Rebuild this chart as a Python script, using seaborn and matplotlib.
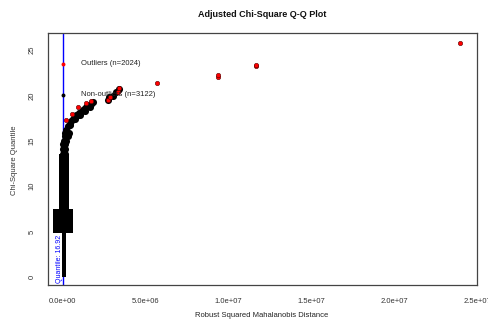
import numpy as np
import pandas as pd
import matplotlib
matplotlib.use("Agg")
import matplotlib.pyplot as plt
import seaborn as sns

# Distances in millions, chi-square quantiles
stem_y = [0.2, 0.6, 1.0, 1.4, 1.8, 2.2, 2.6, 3.0, 3.4, 3.8, 4.2, 4.6, 5.0]
stem_x = [0.05] * len(stem_y)

block_x = [-0.35, 0.0, 0.35] * 4
block_y = [5.3] * 3 + [5.9] * 3 + [6.5] * 3 + [7.1] * 3

column_x = [-0.05, 0.2] * 12
column_y = [7.7, 7.7, 8.2, 8.2, 8.7, 8.7, 9.2, 9.2, 9.7, 9.7, 10.2, 10.2,
            10.7, 10.7, 11.2, 11.2, 11.7, 11.7, 12.2, 12.2, 12.7, 12.7, 13.2, 13.2]

curve_x = [0.0, 0.1, 0.0, 0.1, 0.02, 0.15, 0.05, 0.2, 0.1, 0.3, 0.15, 0.35, 0.2,
           0.3, 0.4, 0.5, 0.6, 0.7, 0.8, 0.9, 1.0, 1.1, 1.2, 1.3, 1.4, 1.5, 1.6,
           1.7, 1.8, 0.45, 0.75, 1.05, 1.35, 1.65,
           2.7, 2.8, 3.0, 3.2, 3.4]
curve_y = [13.6, 13.6, 14.1, 14.1, 14.6, 14.6, 15.0, 15.0, 15.5, 15.5, 15.9, 15.9,
           16.2, 16.6, 16.9, 17.2, 17.4, 17.6, 17.8, 17.9, 18.1, 18.2, 18.4, 18.5,
           18.7, 18.8, 19.0, 19.1, 19.3, 16.8, 17.4, 17.8, 18.3, 18.7,
           19.5, 19.8, 19.9, 20.4, 20.7]

outlier_x = [0.2, 0.53, 0.93, 1.39, 1.67, 2.7, 2.83, 3.3, 3.4,
             5.66, 9.34, 9.34, 11.67, 11.67, 24.0]
outlier_y = [17.3, 18.0, 18.7, 19.2, 19.4, 19.5, 19.8, 20.4, 20.8,
             21.4, 22.0, 22.2, 23.2, 23.4, 25.8]

legend_y = [23.5, 20.1]
legend_labels = ["Outliers (n=2024)", "Non-outliers (n=3122)"]
legend_colors = ["red", "black"]

cutoff_label = "Quantile: 16.92"

xticks = [0, 5e6, 1e7, 1.5e7, 2e7, 2.5e7]
xtick_labels = ["0.0e+00", "5.0e+06", "1.0e+07", "1.5e+07", "2.0e+07", "2.5e+07"]
yticks = [0, 5, 10, 15, 20, 25]

M = 1e6

sns.set_style("white")
plt.rcParams['font.family'] = ['Liberation Sans', 'DejaVu Sans']

fig = plt.figure(figsize=(4.88, 3.21), dpi=100)
ax = fig.add_axes([0.0984, 0.112, 0.879, 0.785])

stem = pd.DataFrame({"x": np.array(stem_x) * M, "y": stem_y})
block = pd.DataFrame({"x": np.array(block_x) * M, "y": block_y})
column = pd.DataFrame({"x": np.array(column_x) * M, "y": column_y})
curve = pd.DataFrame({"x": np.array(curve_x) * M, "y": curve_y})
outl = pd.DataFrame({"x": np.array(outlier_x) * M, "y": outlier_y})

ax.axvline(0, color="blue", lw=1.0, zorder=1)
sns.scatterplot(data=stem, x="x", y="y", ax=ax, color="black", s=6, marker="s",
                linewidth=0, zorder=2)
sns.scatterplot(data=block, x="x", y="y", ax=ax, color="black", s=40, marker="s",
                linewidth=0, zorder=2)
sns.scatterplot(data=column, x="x", y="y", ax=ax, color="black", s=22, marker="s",
                linewidth=0, zorder=2)
sns.scatterplot(data=curve, x="x", y="y", ax=ax, color="black", s=26,
                linewidth=0, zorder=3)
sns.scatterplot(data=outl, x="x", y="y", ax=ax, color="red", s=10,
                edgecolor="#550000", linewidth=0.4, zorder=4)

# legend-like labels placed in data space
leg = pd.DataFrame({"x": [0.0, 0.0], "y": legend_y, "c": legend_colors})
for _, r in leg.iterrows():
    ax.scatter(r["x"], r["y"], color=r["c"], s=8, zorder=5, linewidths=0)
for yv, lab in zip(legend_y, legend_labels):
    ax.text(1.1 * M, yv, lab, fontsize=5.5, color="#222222", va="center", ha="left",
            zorder=6)

ax.text(-0.2 * M, -0.7, cutoff_label, rotation=90, color="blue", fontsize=5,
        ha="center", va="bottom", zorder=6)

ax.set_xlim(-0.9 * M, 2.5e7)
ax.set_ylim(-0.88, 26.87)
ax.set_xticks(xticks)
ax.set_xticklabels(xtick_labels)
ax.set_yticks(yticks)
ax.set_yticklabels([str(v) for v in yticks], rotation=90, va="center")
ax.tick_params(axis="both", direction="out", length=4, width=0.7, colors="#444444",
               labelsize=5.5, labelcolor="#333333")
ax.tick_params(axis="x", pad=5)
ax.tick_params(axis="y", pad=5)
ax.set_xlabel("")
ax.set_ylabel("")
for sp in ax.spines.values():
    sp.set_color("#444444")
    sp.set_linewidth(0.9)

fig.text(0.537, 0.956, "Adjusted Chi-Square Q-Q Plot", ha="center", va="center",
         fontsize=6.5, fontweight="bold", color="#111111")
fig.text(0.537, 0.028, "Robust Squared Mahalanobis Distance", ha="center", va="top",
         fontsize=5.5, color="#222222")
fig.text(0.029, 0.5, "Chi-Square Quantile", rotation=90, ha="center", va="center",
         fontsize=5.5, color="#333333")

fig.savefig("out.png", dpi=100)
